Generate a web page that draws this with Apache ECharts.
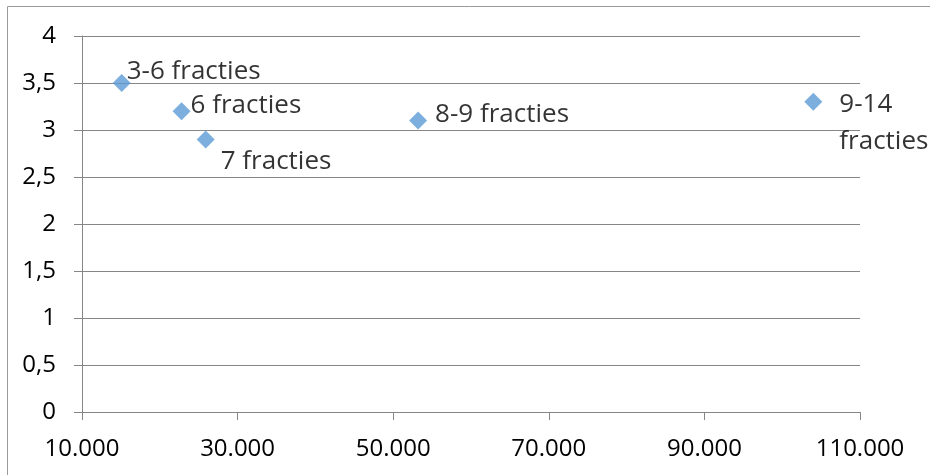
<!DOCTYPE html>
<html>
<head>
<meta charset="utf-8">
<script src="https://cdn.jsdelivr.net/npm/echarts@6/dist/echarts.min.js"></script>
<style>
html,body{margin:0;padding:0;background:#fff;}
#chart{width:930px;height:475px;}
</style>
</head>
<body>
<div id="chart"></div>
<script>
// Data
var labels = ['3-6 fracties', '6 fracties', '7 fracties', '8-9 fracties', '9-14\nfracties'];
var xValues = [15100, 22800, 25900, 53200, 104000];
var yValues = [3.5, 3.2, 2.9, 3.1, 3.3];

// Label placement (layout only)
var labelOffsets = [[5, -11], [9, -6], [15, 22], [17, -6], [26, 21]];

var FONT = '"Open Sans", "Noto Sans", sans-serif';
var points = labels.map(function (name, i) {
  return {
    name: name,
    value: [xValues[i], yValues[i]],
    label: { offset: labelOffsets[i] }
  };
});

var chart = echarts.init(document.getElementById('chart'), null, { renderer: 'canvas' });
chart.setOption({
  animation: false,
  backgroundColor: '#fff',
  grid: { left: 82, right: 70, top: 36, bottom: 63 },
  graphic: [{
    type: 'rect',
    shape: { x: 7.5, y: 6.5, width: 1000, height: 1000 },
    style: { fill: 'none', stroke: '#9a9a9a', lineWidth: 1 },
    silent: true
  }],
  xAxis: {
    type: 'value', min: 10000, max: 110000, interval: 20000,
    axisLine: { show: true, onZero: false, lineStyle: { color: '#868686', width: 1 } },
    axisTick: { show: true, length: 8, lineStyle: { color: '#868686' } },
    splitLine: { show: false },
    axisLabel: {
      color: '#000', fontFamily: FONT, fontSize: 24, margin: 25,
      formatter: function (v) { return String(v).replace(/\B(?=(\d{3})+(?!\d))/g, '.'); }
    }
  },
  yAxis: {
    type: 'value', min: 0, max: 4, interval: 0.5,
    axisLine: { show: true, lineStyle: { color: '#868686', width: 1 } },
    axisTick: { show: true, length: 8, lineStyle: { color: '#868686' } },
    splitLine: { show: true, lineStyle: { color: '#868686', width: 1 } },
    axisLabel: {
      color: '#000', fontFamily: FONT, fontSize: 24, margin: 26,
      formatter: function (v) { return String(v).replace('.', ','); }
    }
  },
  series: [{
    type: 'scatter',
    symbol: 'diamond',
    symbolSize: 18,
    itemStyle: { color: '#5B9BD5' },
    label: {
      show: true,
      position: 'inside',
      align: 'left',
      verticalAlign: 'middle',
      color: '#000',
      fontFamily: FONT,
      fontSize: 26,
      lineHeight: 37,
      formatter: function (p) { return p.name; }
    },
    data: points
  }]
});
</script>
</body>
</html>
